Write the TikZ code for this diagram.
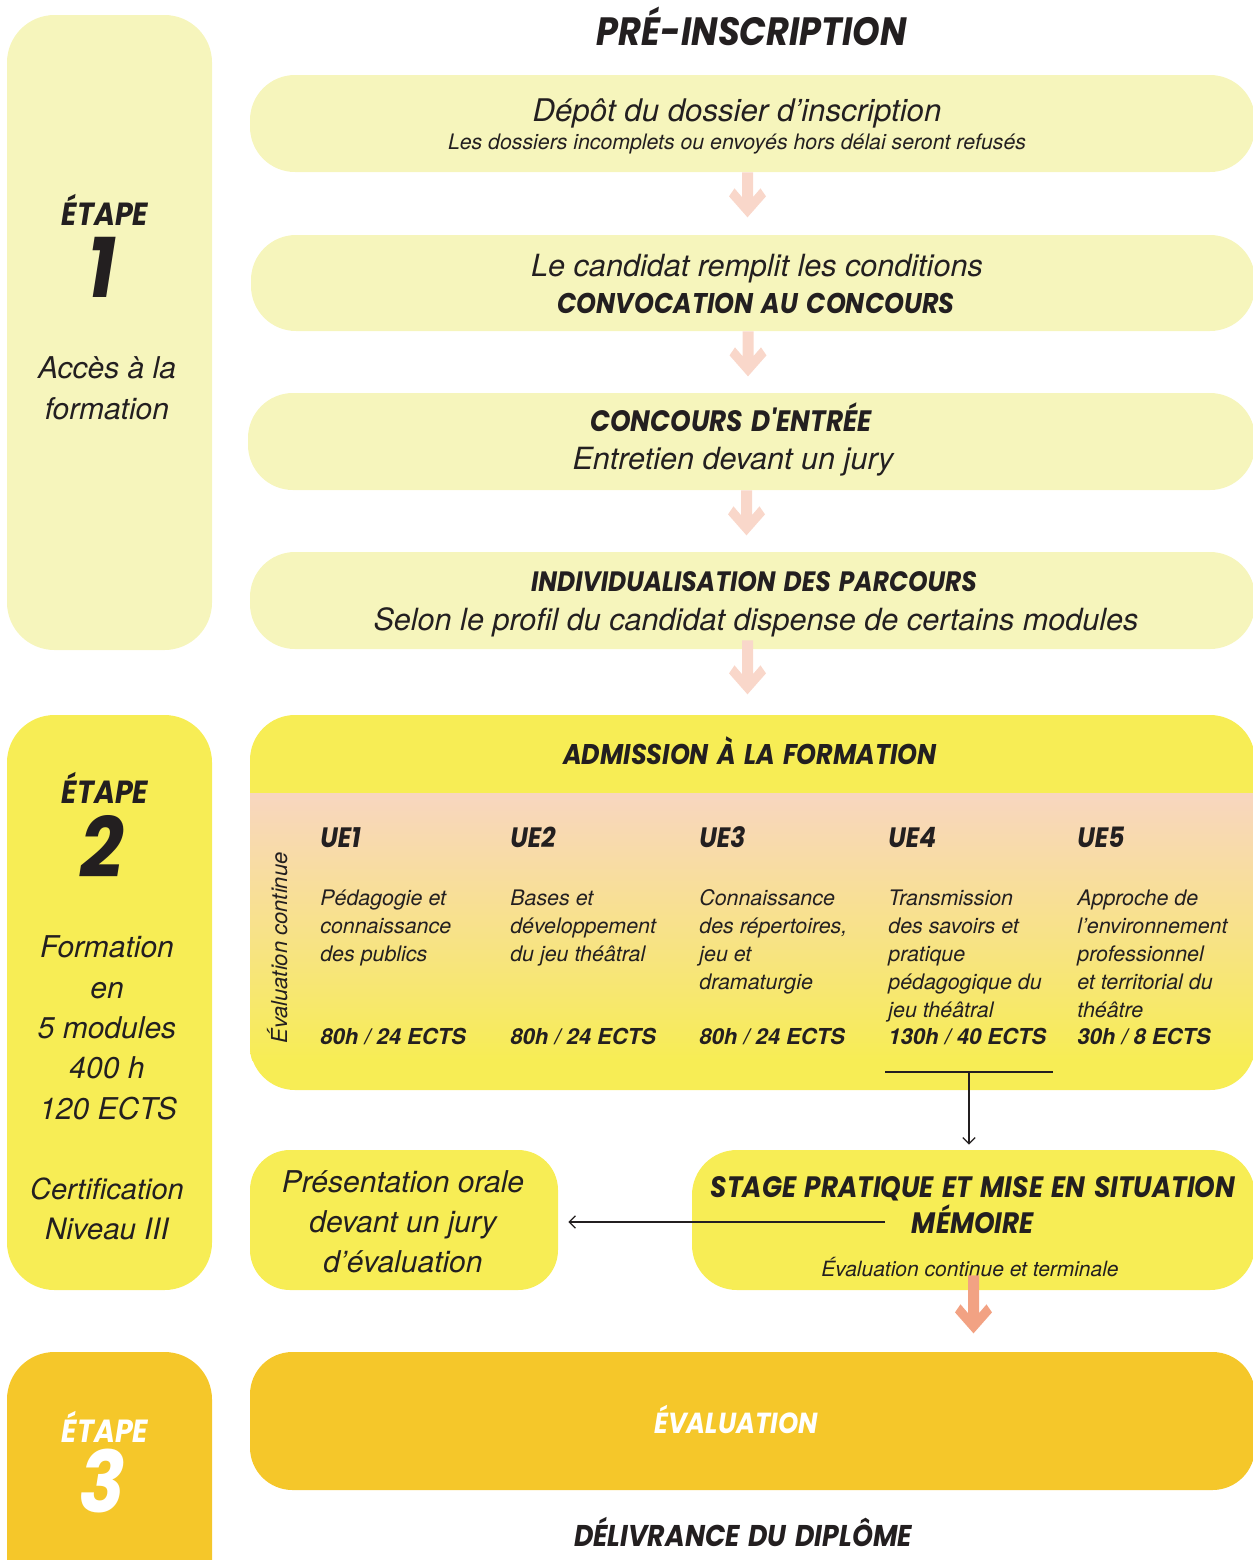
\documentclass[tikz,border=0pt]{standalone}
\usepackage{fontspec}
\setmainfont{TeX Gyre Heros}
\newfontfamily\hd{Poppins}[FakeStretch=0.89,WordSpace=1.4]
\usetikzlibrary{calc,arrows.meta}
\definecolor{pale}{HTML}{F6F5BC}
\definecolor{yel}{HTML}{F7ED55}
\definecolor{gold}{HTML}{F5C72A}
\definecolor{peach}{HTML}{F8D6C0}
\definecolor{arrpale}{HTML}{F9D7CA}
\definecolor{arrsal}{HTML}{F2A283}
\definecolor{ink}{HTML}{231F20}
\newcommand\fs[2]{\fontsize{\dimexpr #1pt*569/1000\relax}{\dimexpr #2pt*569/1000\relax}\selectfont}
\newcommand\bx[6]{\node[#6, minimum width={(#4-#2)*0.02cm}, minimum height={(#5-#3)*0.02cm}] (#1) at ({(#2+#4)/2},{(#3+#5)/2}) {};}
\newcommand\fatarrow[3]{\fill[#2,shift={(#1)}] (-5.5,0) -- (-5.5,24.75+#3) -- (-13,16+#3) -- (-18.5,24+#3) -- (0,45+#3) -- (18.5,24+#3) -- (13,16+#3) -- (5.5,24.75+#3) -- (5.5,0) -- cycle;}
\newcommand\uecol[5]{%
  \node[uel] (ue#1) at (#2,847) {UE#1};
  \foreach \l [count=\k] in {#4} \node[uet] (ue#1d\k) at (#2,{905+(\k-1)*28.2}) {\l};
  \node[ueb=22] (ue#1e) at (#2,#3) {#5};}
\begin{document}
\begin{tikzpicture}[x=0.02cm,y=-0.02cm,
  t/.style={inner sep=0pt, anchor=base, text=ink},
  body/.style={t, font=\itshape\fs{#1}{#1}},
  head/.style={t, font=\hd\bfseries\itshape\fs{#1}{#1}},
  uel/.style={t, anchor=base west, font=\hd\bfseries\itshape\fs{28}{28}},
  ueb/.style={t, anchor=base west, font=\bfseries\itshape\fs{#1}{#1}},
  uet/.style={t, anchor=base west, font=\itshape\fs{21.4}{21.4}},
  box/.style={inner sep=0pt, rounded corners=0.9cm},
  etbox/.style={inner sep=0pt, rounded corners=0.95cm},
  thinarrow/.style={draw=ink, line width=0.75pt, -{Straight Barb[length=3.5pt,width=7pt]}}]
\useasboundingbox (0,0) rectangle (1253,1560);
% left column
\bx{etape1}{7}{15}{212}{650}{etbox, fill=pale}
\bx{etape2}{7}{715}{212}{1290}{etbox, fill=yel}
\bx{etape3}{7}{1352}{212}{1620}{etbox, fill=gold}
% main boxes
\bx{b1}{250}{75}{1255}{172}{box, fill=pale}
\bx{b2}{251}{235}{1255}{331}{box, fill=pale}
\bx{b3}{248}{393}{1255}{490}{box, fill=pale}
\bx{b4}{250}{552}{1255}{649}{box, fill=pale}
\bx{adm}{250}{715}{1255}{1090}{box, fill=yel}
\begin{scope}
  \clip[rounded corners=0.9cm] (adm.north west) rectangle (adm.south east);
  \shade[top color=peach, bottom color=yel] (250,793) rectangle (1255,1060);
\end{scope}
\bx{pres}{250}{1150}{558}{1290}{box, fill=yel, rounded corners=0.8cm}
\bx{stage}{692}{1150}{1255}{1290}{box, fill=yel}
\bx{eval}{250}{1352}{1255}{1490}{box, fill=gold, rounded corners=0.85cm}
% fat arrows
\fatarrow{$(b1.south)+(-5,0)$}{arrpale}{0}
\fatarrow{$(b2.south)+(-5,0)$}{arrpale}{0}
\fatarrow{$(b3.south)+(-5,0)$}{arrpale}{0}
\fatarrow{$(b4.south)+(-5,-9)$}{arrpale}{9}
% title
\node[head=39.5] (title) at (752,45) {PRÉ-INSCRIPTION};
% etape 1
\node[head=32] (e1a) at (105,225) {ÉTAPE};
\node[head=85] (e1b) at (102,297) {1};
\node[body=30] (e1c) at (107,378) {Accès à la};
\node[body=30] (e1d) at (107,419) {formation};
% boxes text
\node[body=31.2] (t11) at (737,121) {Dépôt du dossier d’inscription};
\node[body=21.3] (t12) at (737,149) {Les dossiers incomplets ou envoyés hors délai seront refusés};
\node[body=30.6] (t21) at (757,276) {Le candidat remplit les conditions};
\node[head=28.5] (t22) at (756,313) {CONVOCATION AU CONCOURS};
\node[head=29.5] (t31) at (731,431) {CONCOURS D'ENTRÉE};
\node[body=30.6] (t32) at (733,469) {Entretien devant un jury};
\node[head=28] (t41) at (754,591) {INDIVIDUALISATION DES PARCOURS};
\node[body=30.6] (t42) at (756,630) {Selon le profil du candidat dispense de certains modules};
% etape 2
\node[head=32] (e2a) at (105,803) {ÉTAPE};
\node[head=85] (e2b) at (102,877) {2};
\node[body=30] (e2c) at (107,957) {Formation};
\node[body=30] (e2d) at (107,998) {en};
\node[body=30] (e2e) at (107,1038) {5 modules};
\node[body=30] (e2f) at (107,1078) {400 h};
\node[body=30] (e2g) at (108,1119) {120 ECTS};
\node[body=29] (e2h) at (107,1199) {Certification};
\node[body=29.5] (e2i) at (107,1239) {Niveau III};
% admission
\node[head=28.5] (tadm) at (750,764) {ADMISSION À LA FORMATION};
\node[body=22, rotate=90] (evc) at (287,948) {Évaluation continue};
\uecol{1}{320}{1044}{Pédagogie et,connaissance,des publics}{80h / 24 ECTS}
\uecol{2}{510}{1044}{Bases et,développement,du jeu théâtral}{80h / 24 ECTS}
\uecol{3}{699}{1044}{Connaissance,{des répertoires,},jeu et,dramaturgie}{80h / 24 ECTS}
\uecol{4}{888}{1044}{Transmission,des savoirs et,pratique,pédagogique du,jeu théâtral}{130h / 40 ECTS}
\uecol{5}{1077}{1044}{Approche de,l’environnement,professionnel,et territorial du,théâtre}{30h / 8 ECTS}
% connectors
\coordinate (ueL) at (885,1072);
\coordinate (ueR) at (1053,1072);
\coordinate (ueM) at (969,1072);
\draw[draw=ink, line width=0.75pt] (ueL) -- (ueR);
\draw[thinarrow] (ueM) -- ($(ueM |- stage.north)+(0,-5)$);
\coordinate (stL) at (885,1222);
\draw[thinarrow] (stL) -- ($(pres.east |- stL)+(10,0)$);
% presentation
\node[body=30] (p1) at (403,1192) {Présentation orale};
\node[body=30] (p2) at (403,1232) {devant un jury};
\node[body=30] (p3) at (403,1272) {d’évaluation};
% stage
\node[head=29.5] (s1) at (973,1197) {STAGE PRATIQUE ET MISE EN SITUATION};
\node[head=29.5] (s2) at (973,1233) {MÉMOIRE};
\node[body=21] (s3) at (970,1276) {Évaluation continue et terminale};
\fatarrow{$(stage.south)+(0,-15)$}{arrsal}{13}
% etape 3
\node[head=32, text=white] (e3a) at (105,1442) {ÉTAPE};
\node[head=85, text=white] (e3b) at (102,1512) {3};
\node[head=29, text=white] (tev) at (736,1433) {ÉVALUATION};
\node[head=30] (tdel) at (743,1546) {DÉLIVRANCE DU DIPLÔME};
\end{tikzpicture}
\end{document}
